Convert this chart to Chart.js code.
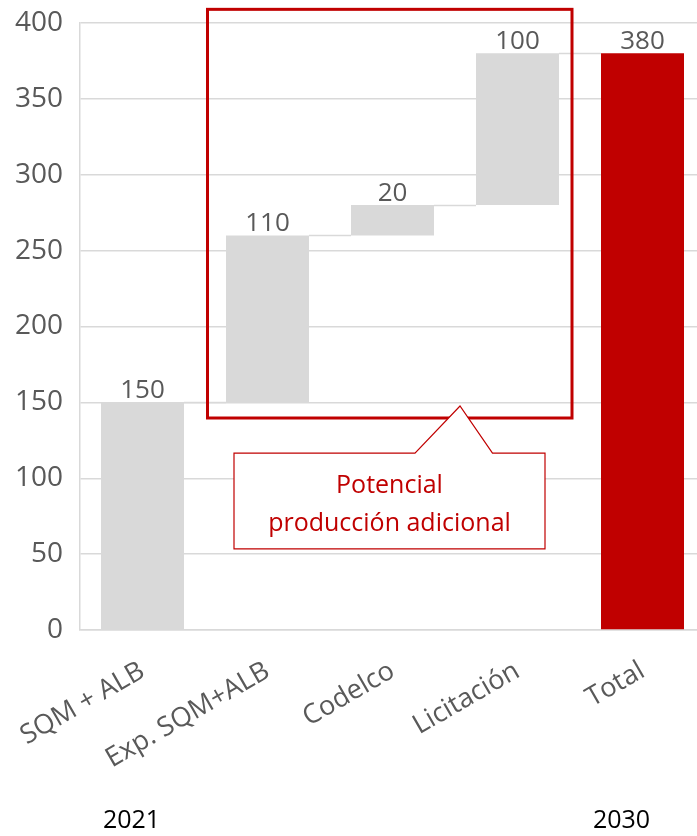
<!DOCTYPE html>
<html>
<head>
<meta charset="utf-8">
<script src="https://cdn.jsdelivr.net/npm/chart.js@4"></script>
<style>
  html, body { margin: 0; padding: 0; background: #fff; overflow: hidden; }
  #wrap { position: relative; width: 705px; height: 836px; }
</style>
</head>
<body>
<div id="wrap"><canvas id="c" width="705" height="836"></canvas></div>
<script>
// ---- data ----
const categories = ['SQM + ALB', 'Exp. SQM+ALB', 'Codelco', 'Licitación', 'Total'];
const barStarts  = [0, 150, 260, 280, 0];
const barEnds    = [150, 260, 280, 380, 380];
const barLabels  = ['150', '110', '20', '100', '380'];
const barColors  = ['#d9d9d9', '#d9d9d9', '#d9d9d9', '#d9d9d9', '#c00000'];
const yTicks     = [0, 50, 100, 150, 200, 250, 300, 350, 400];
const yearLabels = ['2021', '', '', '', '2030'];
const calloutLines = ['Potencial', 'producción adicional'];

const FONT = '"Open Sans", "Liberation Sans", sans-serif';
const GREY_TXT = '#595959';
const RED = '#c00000';

function noPad(s) {
  s.paddingTop = 0; s.paddingBottom = 0; s.paddingLeft = 0; s.paddingRight = 0;
}

const overlay = {
  id: 'overlay',
  afterDatasetsDraw(chart) {
    const ctx = chart.ctx;
    const x = chart.scales.x, y = chart.scales.y;
    const meta = chart.getDatasetMeta(0);
    ctx.save();
    // connectors
    ctx.strokeStyle = '#d9d9d9';
    ctx.lineWidth = 1.5;
    for (let i = 0; i < barEnds.length - 1; i++) {
      const a = meta.data[i], b = meta.data[i + 1];
      const yy = Math.round(y.getPixelForValue(barEnds[i])) + 0.5;
      ctx.beginPath();
      ctx.moveTo(a.x + a.width / 2, yy);
      ctx.lineTo(b.x - b.width / 2, yy);
      ctx.stroke();
    }
    // data labels
    ctx.fillStyle = GREY_TXT;
    ctx.font = '26px ' + FONT;
    ctx.textAlign = 'center';
    ctx.textBaseline = 'alphabetic';
    meta.data.forEach((el, i) => {
      ctx.fillText(barLabels[i], el.x, y.getPixelForValue(barEnds[i]) - 4);
    });
    // red frame around additional production
    const fx = v => x.getPixelForValue(0) + (x.getPixelForValue(1) - x.getPixelForValue(0)) * v;
    ctx.strokeStyle = RED;
    ctx.lineWidth = 3;
    const l = fx(0.52), r = fx(3.436), t = y.getPixelForValue(409), b = y.getPixelForValue(139.7);
    ctx.strokeRect(l, t, r - l, b - t);
    // callout
    const cl = fx(0.732), cr = fx(3.22), ct = y.getPixelForValue(116.6), cb = y.getPixelForValue(53.4);
    const bl = fx(2.18), br = fx(2.80), ax = fx(2.54), ay = y.getPixelForValue(147.6);
    ctx.beginPath();
    ctx.moveTo(cl, ct);
    ctx.lineTo(bl, ct);
    ctx.lineTo(ax, ay);
    ctx.lineTo(br, ct);
    ctx.lineTo(cr, ct);
    ctx.lineTo(cr, cb);
    ctx.lineTo(cl, cb);
    ctx.closePath();
    ctx.fillStyle = '#fff';
    ctx.fill();
    ctx.lineWidth = 1.2;
    ctx.stroke();
    ctx.fillStyle = RED;
    ctx.font = '25px ' + FONT;
    const cx = (cl + cr) / 2;
    ctx.fillText(calloutLines[0], cx, ct + 40);
    ctx.fillText(calloutLines[1], cx, ct + 78);
    // year labels
    ctx.fillStyle = '#000';
    ctx.font = '25px ' + FONT;
    ctx.textBaseline = 'middle';
    const yearShift = [-11, 0, 0, 0, -21];
    yearLabels.forEach((t2, i) => {
      if (!t2) return;
      ctx.fillText(t2, x.getPixelForValue(i) + yearShift[i], 821);
    });
    ctx.restore();
  }
};

new Chart(document.getElementById('c'), {
  type: 'bar',
  data: {
    labels: categories,
    datasets: [{
      data: barStarts.map((s, i) => [s, barEnds[i]]),
      backgroundColor: barColors,
      borderWidth: 0,
      barPercentage: 0.664,
      categoryPercentage: 1
    }]
  },
  options: {
    responsive: false,
    animation: false,
    layout: { padding: { top: 23, left: 0, right: 0, bottom: 0 } },
    plugins: { legend: { display: false }, tooltip: { enabled: false } },
    scales: {
      y: {
        min: 0, max: 400,
        afterFit(s) { s.width = 80; noPad(s); },
        afterBuildTicks(s) { s.ticks = yTicks.map(v => ({ value: v })); },
        grid: { color: '#d9d9d9', lineWidth: 1.5, drawTicks: false },
        border: { display: true, color: '#d9d9d9', width: 1.5 },
        ticks: { color: GREY_TXT, font: { family: FONT, size: 28 }, padding: 17 }
      },
      x: {
        afterFit(s) { s.height = 206; noPad(s); },
        grid: { display: false, drawTicks: false },
        border: { display: true, color: '#d9d9d9', width: 1.5 },
        ticks: {
          color: GREY_TXT, font: { family: FONT, size: 27 },
          minRotation: 30, maxRotation: 30, autoSkip: false, padding: 25
        }
      }
    }
  },
  plugins: [overlay]
});
</script>
</body>
</html>
